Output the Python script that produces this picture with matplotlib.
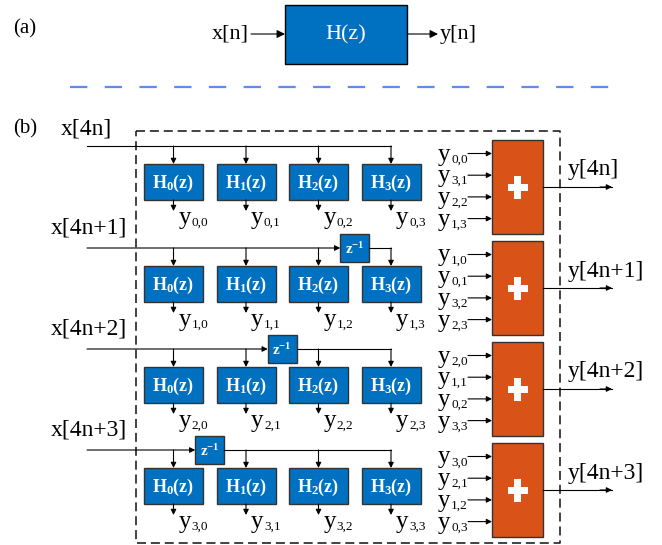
import matplotlib.pyplot as plt
from matplotlib.patches import Rectangle

plt.rcParams['font.family'] = ['Liberation Serif', 'DejaVu Serif']
plt.rcParams['mathtext.fontset'] = 'custom'
plt.rcParams['mathtext.rm'] = 'Liberation Serif'
plt.rcParams['mathtext.bf'] = 'Liberation Serif:bold'
plt.rcParams['mathtext.it'] = 'Liberation Serif:italic'
plt.rcParams['lines.scale_dashes'] = False

# labels
inputs = ['x[4n]', 'x[4n+1]', 'x[4n+2]', 'x[4n+3]']
outputs = ['y[4n]', 'y[4n+1]', 'y[4n+2]', 'y[4n+3]']
filters = ['0', '1', '2', '3']
delay_slot = [None, 3, 2, 1]   # index of first filter fed after z^-1
sum_inputs = [['0,0', '3,1', '2,2', '1,3'],
              ['1,0', '0,1', '3,2', '2,3'],
              ['2,0', '1,1', '0,2', '3,3'],
              ['3,0', '2,1', '1,2', '0,3']]

BLUE = '#0070C0'
ORANGE = '#D95319'
EDGE = '#333333'

fig = plt.figure(figsize=(6.62, 5.45), dpi=100)
ax = fig.add_axes([0, 0, 1, 1])
ax.set_xlim(0, 662)
ax.set_ylim(545, 0)
ax.axis('off')


def arrow(x0, y0, x1, y1, ms=8):
    ax.annotate('', xy=(x1, y1), xytext=(x0, y0),
                arrowprops=dict(arrowstyle='-|>', color='black', lw=0.8,
                                mutation_scale=ms, shrinkA=0, shrinkB=0))


def ylabel(x, y, sub):
    # "y" with a small subscript, baseline at y
    ax.text(x, y, 'y', fontsize=18, va='baseline', ha='left')
    ax.text(x + 13, y + 2, sub, fontsize=9.5, va='baseline', ha='left')


# ---- (a) single filter
ax.text(13, 29, '(a)', fontsize=15, va='center')
ax.text(249, 34, 'x[n]', fontsize=16, va='center', ha='right')
arrow(251, 34, 285, 34, ms=12)
ax.add_patch(Rectangle((285, 5), 122, 59, fc=BLUE, ec='black', lw=1))
ax.text(346, 35, 'H(z)', fontsize=16, color='white', va='center', ha='center')
arrow(407, 34, 438, 34, ms=12)
ax.text(440, 34, 'y[n]', fontsize=16, va='center', ha='left')

ax.plot([70, 615], [87, 87], color='#5B8DEF', lw=1.6, dashes=(12.5, 12.5))

# ---- (b) polyphase structure
ax.text(13, 129, '(b)', fontsize=15, va='center')
ax.plot([136, 560, 560, 136, 136], [131, 131, 543, 543, 131],
        color='#222222', lw=1.2, dashes=(6.5, 3.5))

hx = [173.5, 246, 318.5, 391]
bw, bh = 59, 36
line_y = [146, 248, 349, 450]

for r in range(4):
    ly = line_y[r]
    if r == 0:
        ax.text(61, ly - 17, inputs[r], fontsize=17, va='center', ha='left')
    else:
        ax.text(127, ly - 20, inputs[r], fontsize=17, va='center', ha='right')

    slot = delay_slot[r]
    if slot is None:
        ax.plot([87, hx[3]], [ly, ly], color='black', lw=0.8)
    else:
        zc = (hx[slot - 1] + hx[slot]) / 2
        zl, zr = zc - 14.5, zc + 14.5
        arrow(87, ly, zl, ly)
        ax.plot([zr, hx[3]], [ly, ly], color='black', lw=0.8)
        ax.add_patch(Rectangle((zl, ly - 14), 29, 28, fc=BLUE, ec=EDGE, lw=1))
        ax.text(zc, ly + 1, r'$\mathbf{z}^{\mathbf{-1}}$', fontsize=11,
                color='white', ha='center', va='center')

    for k in range(4):
        top = ly + 18
        arrow(hx[k], ly, hx[k], top)
        ax.add_patch(Rectangle((hx[k] - bw / 2, top), bw, bh,
                               fc=BLUE, ec=EDGE, lw=1))
        ax.text(hx[k], top + bh / 2 + 1,
                r'$\mathbf{H}_{\mathbf{%s}}\mathbf{(z)}$' % filters[k],
                fontsize=13, color='white', ha='center', va='center')
        arrow(hx[k], top + bh, hx[k], top + bh + 11)
        ylabel(hx[k] + 5, ly + 78, '%d,%s' % (r, filters[k]))

# adders
ax_l, aw, ah = 492, 51, 94
add_top = [140, 241, 342, 443]
for r in range(4):
    t = add_top[r]
    ax.add_patch(Rectangle((ax_l, t), aw, ah, fc=ORANGE, ec=EDGE, lw=1))
    cx, cy = ax_l + aw / 2, t + ah / 2
    ax.add_patch(Rectangle((cx - 10, cy - 3.5), 20, 7, fc='white', ec='none'))
    ax.add_patch(Rectangle((cx - 3.5, cy - 11.5), 7, 23, fc='white', ec='none'))
    for i in range(4):
        iy = t + 13.5 + i * 21.7
        arrow(468, iy, ax_l, iy)
        ylabel(438, iy + 7, sum_inputs[r][i])
    ax.plot([ax_l + aw, 612], [cy, cy], color='black', lw=0.8)
    arrow(600, cy, 612, cy)
    ax.text(568, cy - 17, outputs[r], fontsize=17, va='center', ha='left')

fig.savefig('out.png', dpi=100)
